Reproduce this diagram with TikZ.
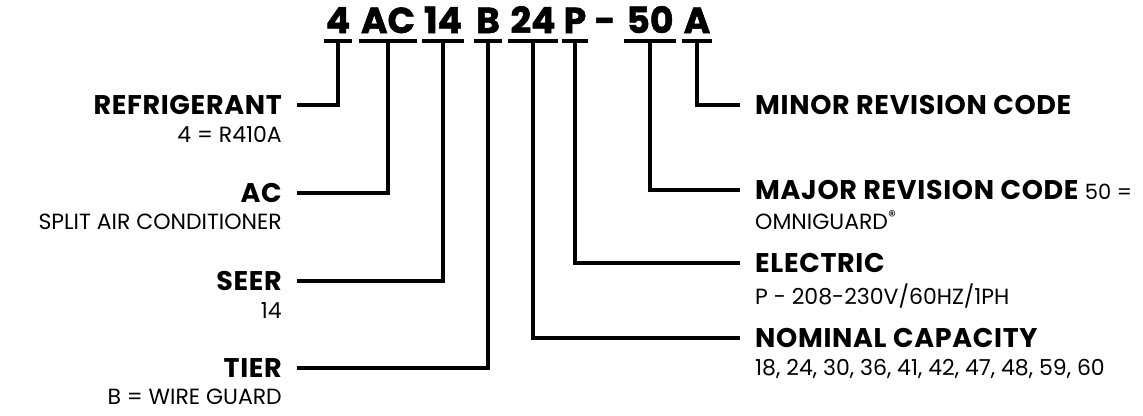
\documentclass[tikz,border=0pt]{standalone}
\usepackage{fontspec}
\setmainfont{Poppins}
\newfontfamily\headfont{Poppins}[LetterSpace=2.5]
\newfontfamily\codefont{Poppins}[BoldFeatures={FakeBold=1.5}]
\usetikzlibrary{positioning}

\begin{document}
\begin{tikzpicture}[x=1pt, y=-1pt,
  every node/.style={inner sep=0pt, text=black},
  codebox/.style={anchor=base, font=\codefont\fontsize{36}{36}\selectfont\bfseries},
  headline/.style={font=\headfont\fontsize{27}{27}\selectfont\bfseries},
  subline/.style={font=\fontsize{22}{26}\selectfont},
  wire/.style={line width=3.6pt}]
  \useasboundingbox (0,0) rectangle (1143,415);
  % ölçü: 1 pt = 1 piksel, y aşağı doğru
  \def\codey{33}
  \def\lx{282}
  \def\rx{755}
  \def\gapw{15}
  \def\notegap{11pt}

  % ---- model kodu: 4 AC 14 B 24 P - 50 A ----
  \node[codebox] (c4)  at (338,\codey) {4};
  \node[codebox] (cAC) at (388,\codey) {AC};
  \node[codebox] (c14) at (443,\codey) {14};
  \node[codebox] (cB)  at (488,\codey) {B};
  \node[codebox] (c24) at (533,\codey) {24};
  \node[codebox] (cP)  at (575,\codey) {P};
  \node[codebox] (cd)  at (605,\codey) {-};
  \node[codebox] (c50) at (650,\codey) {50};
  \node[codebox] (cA)  at (697,\codey) {A};
  \foreach \n in {c4,cAC,c14,cB,c24,cP,c50,cA}
    \draw[wire] ([shift={(-2pt,-8pt)}]\n.base west) -- ([shift={(2pt,-8pt)}]\n.base east)
      coordinate[pos=0.5] (\n-bar);

  % ---- sol taraf ----
  \node[headline, anchor=east] (ref) at (\lx,105) {REFRIGERANT};
  \node[subline, below=\notegap of ref.south east, anchor=north east] (refnote) {4 = R410A};
  \node[headline, anchor=east] (ac) at (\lx,193) {AC};
  \node[subline, below=\notegap of ac.south east, anchor=north east] (acnote) {SPLIT AIR CONDITIONER};
  \node[headline, anchor=east] (seer) at (\lx,281) {SEER};
  \node[subline, below=\notegap of seer.south east, anchor=north east] (seernote) {14};
  \node[headline, anchor=east] (tier) at (\lx,368) {TIER};
  \node[subline, below=\notegap of tier.south east, anchor=north east] (tiernote) {B = WIRE GUARD};

  % ---- sağ taraf ----
  \node[headline, anchor=west] (minor) at (\rx,105) {MINOR REVISION CODE};
  \node[headline, anchor=west] (major) at (\rx,190)
    {MAJOR REVISION CODE {\normalfont\mdseries\fontsize{21}{26}\selectfont 50 =}};
  \node[subline, below=\notegap of major.south west, anchor=north west] (majornote)
    {OMNIGUARD\textsuperscript{®}};
  \node[headline, anchor=west] (elec) at (\rx,263) {ELECTRIC};
  \node[subline, below=\notegap of elec.south west, anchor=north west] (elecnote)
    {P - 208-230V/60HZ/1PH};
  \node[headline, anchor=west] (cap) at (\rx,338) {NOMINAL CAPACITY};
  \node[subline, below=\notegap of cap.south west, anchor=north west] (capnote)
    {18, 24, 30, 36, 41, 42, 47, 48, 59, 60};

  % ---- bağlantılar ----
  \draw[wire] (c4-bar)  |- ([xshift=\gapw pt]ref.east);
  \draw[wire] (cAC-bar) |- ([xshift=\gapw pt]ac.east);
  \draw[wire] (c14-bar) |- ([xshift=\gapw pt]seer.east);
  \draw[wire] (cB-bar)  |- ([xshift=\gapw pt]tier.east);
  \draw[wire] (cA-bar)  |- ([xshift=-\gapw pt]minor.west);
  \draw[wire] (c50-bar) |- ([xshift=-\gapw pt]major.west);
  \draw[wire] (cP-bar)  |- ([xshift=-\gapw pt]elec.west);
  \draw[wire] (c24-bar) |- ([xshift=-\gapw pt]cap.west);
\end{tikzpicture}
\end{document}
